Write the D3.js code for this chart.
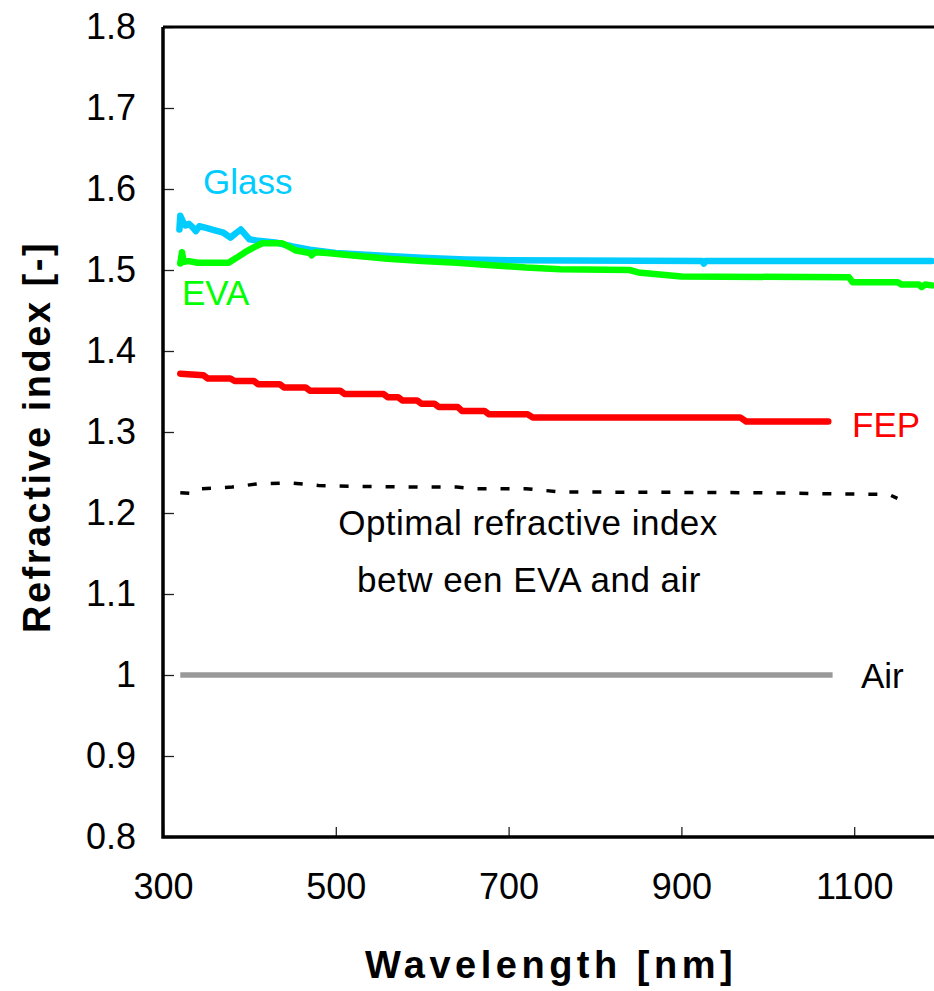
<!DOCTYPE html>
<html>
<head>
<meta charset="utf-8">
<script src="https://cdn.jsdelivr.net/npm/d3@7"></script>
<style>
  html, body { margin: 0; padding: 0; background: #fff; }
  svg { display: block; }
  text { font-family: "Liberation Sans", Arial, sans-serif; }
</style>
</head>
<body>
<svg id="chart" width="934" height="991"></svg>
<script>
// ---- data ----
const xTicks = [300, 500, 700, 900, 1100];
const xTickLabels = ["300", "500", "700", "900", "1100"];
const yTicks = [0.8, 0.9, 1.0, 1.1, 1.2, 1.3, 1.4, 1.5, 1.6, 1.7, 1.8];
const yTickLabels = ["0.8", "0.9", "1", "1.1", "1.2", "1.3", "1.4", "1.5", "1.6", "1.7", "1.8"];

const glassWl = [319, 320, 323, 326, 330, 335, 338, 342, 350, 360, 370, 378, 385, 390, 395, 400, 410, 430, 450, 470, 500, 550, 600, 650, 700, 924, 926, 928, 1190];
const glassN  = [1.550, 1.567, 1.560, 1.555, 1.557, 1.552, 1.548, 1.554, 1.552, 1.549, 1.546, 1.540, 1.546, 1.550, 1.544, 1.538, 1.536, 1.534, 1.529, 1.525, 1.521, 1.518, 1.515, 1.513, 1.512, 1.511, 1.508, 1.511, 1.511];

const evaWl = [320, 322, 324, 330, 340, 376, 385, 395, 405, 415, 438, 445, 454, 470, 472, 476, 490, 520, 560, 600, 640, 680, 720, 760, 840, 850, 900, 1094, 1098, 1150, 1155, 1175, 1178, 1182, 1190];
const evaN  = [1.508, 1.522, 1.510, 1.511, 1.509, 1.509, 1.515, 1.522, 1.528, 1.533, 1.533, 1.529, 1.524, 1.521, 1.518, 1.522, 1.521, 1.518, 1.514, 1.511, 1.509, 1.506, 1.503, 1.501, 1.500, 1.497, 1.492, 1.491, 1.485, 1.485, 1.482, 1.482, 1.479, 1.482, 1.481];

const fepWl = [320, 347, 352, 378, 383, 405, 410, 435, 440, 465, 470, 505, 510, 555, 560, 572, 577, 594, 599, 614, 619, 641, 646, 672, 677, 722, 728, 968, 975, 1070];
const fepN  = [1.372, 1.370, 1.366, 1.366, 1.363, 1.363, 1.359, 1.359, 1.355, 1.355, 1.351, 1.351, 1.347, 1.347, 1.343, 1.343, 1.339, 1.339, 1.335, 1.335, 1.331, 1.331, 1.326, 1.326, 1.322, 1.322, 1.318, 1.318, 1.313, 1.313];

const optWl = [320, 335, 345, 380, 410, 450, 480, 520, 600, 640, 660, 720, 760, 1000, 1050, 1140, 1150];
const optN  = [1.225, 1.224, 1.230, 1.232, 1.236, 1.237, 1.234, 1.233, 1.232, 1.232, 1.230, 1.230, 1.226, 1.225, 1.224, 1.223, 1.218];

const airWl = [320, 1075];
const airN  = [1.0, 1.0];

// ---- layout ----
const svg = d3.select("#chart");
const x = d3.scaleLinear().domain([300, 1200]).range([163, 163 + 900 * 0.864]);
const y = d3.scaleLinear().domain([0.8, 1.8]).range([837, 27]);

const toPts = (wl, n) => wl.map((w, i) => [w, n[i]]);
const line = d3.line().x(d => x(d[0])).y(d => y(d[1]));

// y axis
const yAxis = svg.append("g").attr("transform", `translate(${x(300)},0)`)
  .call(d3.axisLeft(y).tickValues(yTicks).tickFormat((d, i) => yTickLabels[i])
    .tickSizeInner(-11).tickSizeOuter(0).tickPadding(27));
yAxis.select(".domain").remove();
yAxis.selectAll(".tick line").attr("stroke", "#222").attr("stroke-width", 1.3);
yAxis.selectAll(".tick text").attr("font-size", 36).attr("fill", "#000")
  .attr("font-family", "Liberation Sans, Arial, sans-serif");

// x axis
const xAxis = svg.append("g").attr("transform", `translate(0,${y(0.8)})`)
  .call(d3.axisBottom(x).tickValues(xTicks).tickFormat((d, i) => xTickLabels[i])
    .tickSizeInner(-10).tickSizeOuter(0).tickPadding(36));
xAxis.select(".domain").remove();
xAxis.selectAll(".tick line").attr("stroke", "#222").attr("stroke-width", 1.3);
xAxis.selectAll(".tick text").attr("font-size", 36).attr("fill", "#000")
  .attr("font-family", "Liberation Sans, Arial, sans-serif");

// frame lines
svg.append("path")
  .attr("d", `M${x(300)},${y(1.8)} L${x(300)},${y(0.8)} L934,${y(0.8)}`)
  .attr("fill", "none").attr("stroke", "#000").attr("stroke-width", 3.5);
svg.append("path")
  .attr("d", `M${x(300)},${y(1.8)} L934,${y(1.8)}`)
  .attr("fill", "none").attr("stroke", "#000").attr("stroke-width", 3);

// series
svg.append("path").datum(toPts(airWl, airN)).attr("d", line)
  .attr("fill", "none").attr("stroke", "#999999").attr("stroke-width", 5.5);

svg.append("path").datum(toPts(optWl, optN)).attr("d", line)
  .attr("fill", "none").attr("stroke", "#000").attr("stroke-width", 3.5)
  .attr("stroke-dasharray", "9,14");

svg.append("path").datum(toPts(fepWl, fepN)).attr("d", line)
  .attr("fill", "none").attr("stroke", "#FF0000").attr("stroke-width", 6.5)
  .attr("stroke-linejoin", "round").attr("stroke-linecap", "round");

svg.append("path").datum(toPts(glassWl, glassN)).attr("d", line)
  .attr("fill", "none").attr("stroke", "#00CCFF").attr("stroke-width", 6.5)
  .attr("stroke-linejoin", "round").attr("stroke-linecap", "round");

svg.append("path").datum(toPts(evaWl, evaN)).attr("d", line)
  .attr("fill", "none").attr("stroke", "#00FF00").attr("stroke-width", 6.5)
  .attr("stroke-linejoin", "round").attr("stroke-linecap", "round");

// labels
const lab = (t, xx, yy, col, anchor, ls) => svg.append("text").text(t)
  .attr("x", xx).attr("y", yy).attr("fill", col).attr("font-size", 35)
  .attr("letter-spacing", ls || 0)
  .attr("text-anchor", anchor || "start");
lab("Glass", 203, 194, "#00CCFF");
lab("EVA", 182, 305, "#00FF00");
lab("FEP", 852, 437, "#FF0000");
lab("Air", 861, 688, "#000");
lab("Optimal refractive index", 528, 535, "#000", "middle", 0.5);
lab("betw een EVA and air", 529, 592, "#000", "middle", 0.5);

// axis titles
svg.append("text").text("Wavelength [nm]")
  .attr("x", 551).attr("y", 978).attr("text-anchor", "middle")
  .attr("font-size", 38).attr("font-weight", "bold").attr("letter-spacing", 4.5);
svg.append("text").text("Refractive index [-]")
  .attr("transform", "translate(50,437) rotate(-90)").attr("text-anchor", "middle")
  .attr("font-size", 38).attr("font-weight", "bold").attr("letter-spacing", 2.5);
</script>
</body>
</html>
